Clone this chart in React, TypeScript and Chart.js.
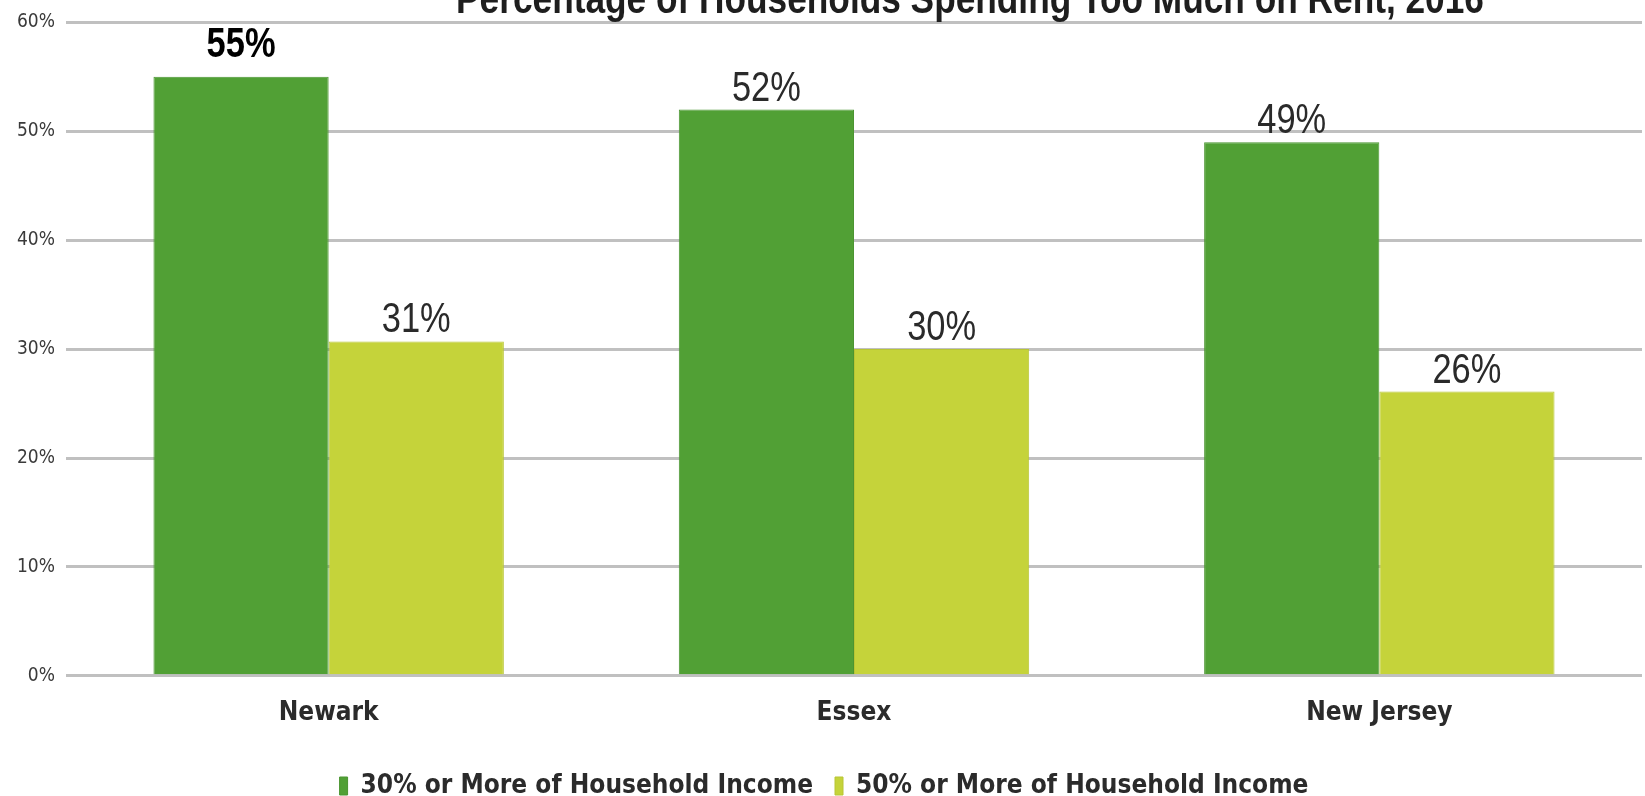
import React, { useEffect, useRef } from "react";
import { Chart, registerables } from "chart.js";

Chart.register(...registerables);

const categories = ["Newark", "Essex", "New Jersey"];
const seriesNames = ["30% or More of Household Income", "50% or More of Household Income"];
const share30 = [55, 52, 49];
const share50 = [30.7, 30, 26.1];
const yTicks = [0, 10, 20, 30, 40, 50, 60];
const titleText = "Percentage of Households Spending Too Much on Rent, 2016";

const GREEN = "#51a035";
const LIME = "#c5d33a";

const labelPlugin = {
  id: "barLabels",
  afterDatasetsDraw(chart: any) {
    const ctx = chart.ctx;
    chart.data.datasets.forEach((ds: any, di: number) => {
      const meta = chart.getDatasetMeta(di);
      meta.data.forEach((el: any, i: number) => {
        const bold = di === 0 && i === 0;
        const txt = Math.round(ds.data[i]) + "%";
        ctx.save();
        ctx.translate(el.x, el.y - (bold ? 20 : 9));
        ctx.scale(0.82, 1);
        ctx.font = (bold ? "bold " : "") + "42px 'Liberation Sans', Arial, sans-serif";
        ctx.fillStyle = bold ? "#000" : "#2a2a2a";
        ctx.textAlign = "center";
        ctx.textBaseline = "alphabetic";
        ctx.fillText(txt, 0, 0);
        ctx.restore();
      });
    });
  },
};

const titlePlugin = {
  id: "clippedTitle",
  afterDraw(chart: any) {
    const ctx = chart.ctx;
    ctx.save();
    ctx.translate(970, 13);
    ctx.scale(0.82, 1);
    ctx.font = "bold 43px 'Liberation Sans', Arial, sans-serif";
    ctx.fillStyle = "#1e1e1e";
    ctx.textAlign = "center";
    ctx.textBaseline = "alphabetic";
    ctx.fillText(titleText, 0, 0);
    ctx.restore();
  },
};

export default function App() {
  const ref = useRef<HTMLCanvasElement | null>(null);
  useEffect(() => {
    document.body.style.overflow = "hidden";
    const chart = new Chart(ref.current as HTMLCanvasElement, {
      type: "bar",
      data: {
        labels: categories,
        datasets: [
          {
            label: seriesNames[0],
            data: share30,
            backgroundColor: GREEN,
            borderColor: "#4a9530",
            borderWidth: 1,
            categoryPercentage: 0.667,
            barPercentage: 1,
          },
          {
            label: seriesNames[1],
            data: share50,
            backgroundColor: LIME,
            borderColor: "#b8c535",
            borderWidth: 1,
            categoryPercentage: 0.667,
            barPercentage: 1,
          },
        ],
      },
      options: {
        responsive: false,
        animation: false,
        layout: { padding: { top: 22, left: 6, right: 3, bottom: -13 } },
        scales: {
          x: {
            grid: { display: false, drawTicks: false },
            border: { display: false },
            ticks: {
              padding: 22,
              color: "#2b2b2b",
              font: { family: "'DejaVu Sans Condensed', 'DejaVu Sans', sans-serif", size: 26, weight: "bold" },
            },
          },
          y: {
            min: 0,
            max: 60,
            afterBuildTicks: (axis: any) => {
              axis.ticks = yTicks.map((v) => ({ value: v }));
            },
            grid: { color: "#c0c0c0", lineWidth: 3, drawTicks: false },
            border: { display: false },
            ticks: {
              padding: 11,
              color: "#3a3a3a",
              font: { family: "'DejaVu Sans Condensed', 'DejaVu Sans', sans-serif", size: 19 },
              callback: (v: any) => v + "%",
            },
          },
        },
        plugins: {
          legend: {
            position: "bottom",
            labels: {
              boxWidth: 8,
              boxHeight: 18,
              padding: 22,
              color: "#2b2b2b",
              font: { family: "'DejaVu Sans Condensed', 'DejaVu Sans', sans-serif", size: 26, weight: "bold" },
            },
          },
          tooltip: { enabled: false },
          title: { display: false },
        },
      },
      plugins: [labelPlugin, titlePlugin],
    });
    return () => chart.destroy();
  }, []);
  return (
    <div style={{ position: "absolute", left: 0, top: 0, width: 1645, height: 796 }}>
      <canvas ref={ref} width={1645} height={796} />
    </div>
  );
}
